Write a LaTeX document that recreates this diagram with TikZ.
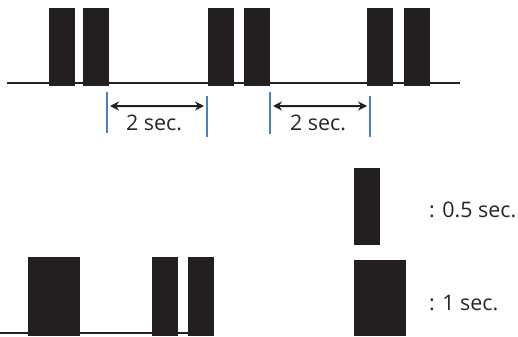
\documentclass[tikz,border=0pt]{standalone}
\usepackage{fontspec}
\setmainfont{Open Sans}
\usetikzlibrary{arrows.meta}
\definecolor{barblack}{HTML}{231F20}
\definecolor{markblue}{HTML}{4A7EC2}
\tikzset{
  pulse/.style={fill=barblack,draw=none},
  baseline/.style={draw=barblack,line width=2bp},
  marker/.style={draw=markblue,line width=1.5bp},
  span/.style={draw=barblack,line width=2bp,{Stealth[length=9bp,width=9bp]}-{Stealth[length=9bp,width=9bp]}},
  lbl/.style={font=\fontsize{21.5}{24}\selectfont,text=black!85,inner sep=0pt}
}
\begin{document}
\begin{tikzpicture}[x=1bp,y=1bp]
\useasboundingbox (0,0) rectangle (518,336);
% upper train
\draw[baseline] (7,253) -- (460,253);
\fill[pulse] (49,250) rectangle (75,328);
\fill[pulse] (83,250) rectangle (109,328);
\fill[pulse] (208,250) rectangle (234,328);
\fill[pulse] (244,250) rectangle (270,328);
\fill[pulse] (367,250) rectangle (393,328);
\fill[pulse] (404,250) rectangle (430,328);
% gap markers
\draw[marker] (107,244) coordinate (m1) -- (107,203);
\draw[marker] (207,240) coordinate (m2) -- (207,199);
\draw[marker] (270,244) coordinate (m3) -- (270,202);
\draw[marker] (370,240) coordinate (m4) -- (370,199);
\draw[span] ([xshift=3bp,yshift=-14bp]m1) -- ([xshift=-3bp,yshift=-10bp]m2);
\draw[span] ([xshift=3bp,yshift=-14bp]m3) -- ([xshift=-3bp,yshift=-10bp]m4);
\node[lbl] (t1) at (154,213) {2 sec.};
\node[lbl] (t2) at (318,213) {2 sec.};
% lower train
\draw[baseline] (0,3) -- (200,3);
\fill[pulse] (28,0) rectangle (80,79);
\fill[pulse] (152,0) rectangle (178,79);
\fill[pulse] (188,0) rectangle (214,79);
% legend
\fill[pulse] (354,91) rectangle (380,168);
\fill[pulse] (354,0) rectangle (406,76);
\node[lbl,anchor=west] (k1) at (429,126) {: 0.5 sec.};
\node[lbl,anchor=west] (k2) at (429,33) {: 1 sec.};
\end{tikzpicture}
\end{document}
